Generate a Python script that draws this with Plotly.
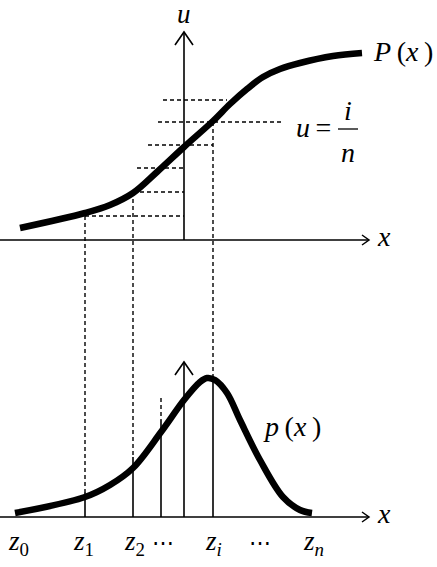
import plotly.graph_objects as go

# ---- Diagram data (diagram units: x to the right, y downward) ----
# Cumulative distribution P(x), sampled points along the curve
P_x = [20, 85, 110, 133, 157, 184, 213, 230, 247, 263, 280, 300, 333, 362]
P_u = [228, 213, 205, 193, 172, 147, 121, 104, 89, 77, 69, 63, 56, 53]

# Density p(x), sampled points along the curve
p_x = [15, 85, 110, 133, 161, 184, 200, 207, 215, 227, 240, 260, 283, 300, 312]
p_y = [513, 497, 485, 468, 432, 400, 382, 378, 380, 393, 420, 460, 497, 510, 513]

# Levels u = i/n (horizontal dashed guides): level, start, end
u_levels = [100, 122, 145, 168, 192, 216]
u_start = [163, 158, 148, 137, 140, 85]
u_end = [227, 282, 213, 184, 184, 184]

# Sample points z_k (vertical guides): position, dashed top, dashed->solid cut
z_pos = [85, 133, 161, 213]
z_top = [216, 192, 398, 122]
z_cut = [492, 457, 420, 377]

# Axes
top_axis_y = 240
bot_axis_y = 517
axis_x0, axis_x1 = 0, 369
u_axis_x = 184
u_axis_top = 32
p_axis_top = 362

# Bottom tick labels
z_label_x = [18, 83, 134, 163, 213, 260, 313]
z_labels = ["<i>z</i><sub>0</sub>", "<i>z</i><sub>1</sub>", "<i>z</i><sub>2</sub>", "⋯",
            "<i>z</i><sub><i>i</i></sub>", "⋯", "<i>z</i><sub><i>n</i></sub>"]

FONT = "Liberation Serif"
BLACK = "#000000"

fig = go.Figure()

def seg(xs, ys, width=1.5, dash=None):
    fig.add_trace(go.Scatter(x=xs, y=ys, mode="lines", hoverinfo="skip",
                             line=dict(color=BLACK, width=width, dash=dash)))

DASH = "4px,3px"

# horizontal dashed guides
for lv, a, b in zip(u_levels, u_start, u_end):
    seg([a, b], [lv, lv], 1.4, DASH)

# vertical guides: dashed part then solid part
for zx, t, c in zip(z_pos, z_top, z_cut):
    seg([zx, zx], [t, c], 1.4, DASH)
    seg([zx, zx], [c, bot_axis_y], 1.6)

# axes
for ay in (top_axis_y, bot_axis_y):
    seg([axis_x0, axis_x1], [ay, ay], 1.5)
    seg([axis_x1 - 7, axis_x1, axis_x1 - 7], [ay - 5, ay, ay + 5], 1.5)
seg([u_axis_x, u_axis_x], [top_axis_y, u_axis_top], 1.6)
seg([u_axis_x - 9, u_axis_x, u_axis_x + 9], [u_axis_top + 13, u_axis_top, u_axis_top + 13], 1.6)
seg([u_axis_x, u_axis_x], [bot_axis_y, p_axis_top], 1.6)
seg([u_axis_x - 9, u_axis_x, u_axis_x + 9], [p_axis_top + 13, p_axis_top, p_axis_top + 13], 1.6)

# curves
fig.add_trace(go.Scatter(x=P_x, y=P_u, mode="lines", hoverinfo="skip",
                         line=dict(color=BLACK, width=6.5, shape="spline", smoothing=1.0)))
fig.add_trace(go.Scatter(x=p_x, y=p_y, mode="lines", hoverinfo="skip",
                         line=dict(color=BLACK, width=6.5, shape="spline", smoothing=1.0)))

# fraction bar of u = i/n
seg([338, 358], [129, 129], 1.3)

def label(x, y, text, size=28, family=FONT, style="normal"):
    fig.add_annotation(x=x, y=y, text=text, showarrow=False, xref="x", yref="y",
                       xanchor="center", yanchor="middle",
                       font=dict(family=family, size=size, color=BLACK, style=style))

label(184, 14, "u", size=27, style="italic")
label(384, 236, "x", style="italic")
label(384, 513, "x", style="italic")
label(403, 51, "<i>P</i>\u2009(<i>x</i>\u2009)")
label(292, 426, "<i>p</i>\u2009(<i>x</i>\u2009)")
label(313, 127, "<i>u</i>\u2009=")
label(348, 110, "i", style="italic")
label(348, 152, "n", style="italic")
for zx, t in zip(z_label_x, z_labels):
    if t == "⋯":
        label(zx, 542, t, size=22, family="DejaVu Serif")
    else:
        label(zx, 543, t, size=27)

fig.update_layout(
    width=437, height=567, autosize=False,
    margin=dict(l=0, r=0, t=0, b=0, pad=0),
    paper_bgcolor="white", plot_bgcolor="white",
    font=dict(family=FONT, color=BLACK),
    showlegend=False,
    xaxis=dict(range=[0, 437], visible=False, fixedrange=True),
    yaxis=dict(range=[567, 0], visible=False, fixedrange=True),
)

fig.write_html("out.html", config={"displayModeBar": False, "staticPlot": True},
               post_script="document.body.style.margin='0';document.body.style.overflow='hidden';")
